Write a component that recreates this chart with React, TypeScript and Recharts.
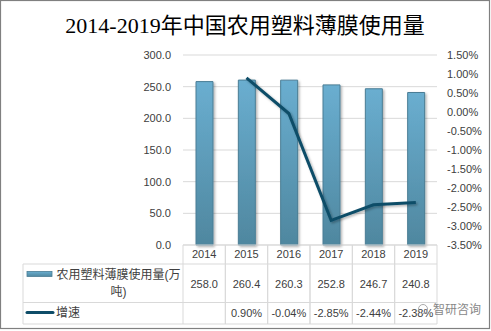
import React from "react";
import {
  ComposedChart,
  Bar,
  Line,
  XAxis,
  YAxis,
  CartesianGrid,
} from "recharts";

const years = ["2014", "2015", "2016", "2017", "2018", "2019"];
const usage = [258.0, 260.4, 260.3, 252.8, 246.7, 240.8];
const growth: (number | null)[] = [null, 0.9, -0.04, -2.85, -2.44, -2.38];
const leftTicks = [0, 50, 100, 150, 200, 250, 300];
const rightTicks = [-3.5, -3, -2.5, -2, -1.5, -1, -0.5, 0, 0.5, 1, 1.5];

const TITLE = "2014-2019年中国农用塑料薄膜使用量";
const SERIES1 = "农用塑料薄膜使用量(万吨)";
const SERIES2 = "增速";

const data = years.map((y, i) => ({ year: y, usage: usage[i], growth: growth[i] }));

const W = 491;
const H = 331;
const PLOT_TOP = 55;
const PLOT_BOTTOM = 245;
const PLOT_LEFT = 183;
const PLOT_RIGHT = 437;
const COL_W = (PLOT_RIGHT - PLOT_LEFT) / years.length;
const ROW1 = 264;
const ROW2 = 302.5;
const ROW3 = 324;
const TABLE_LEFT = 23;
const GRID = "#d9d9d9";
const TXT = "#404040";
const FONT = "'Liberation Sans', Arial, 'Noto Sans CJK SC', sans-serif";

const TableTick = (props: any) => {
  const { x, payload, index } = props;
  const l = x - COL_W / 2;
  const r = x + COL_W / 2;
  const g = growth[index];
  return (
    <g>
      <line x1={l} y1={PLOT_BOTTOM} x2={l} y2={ROW3} stroke={GRID} />
      <line x1={r} y1={PLOT_BOTTOM} x2={r} y2={ROW3} stroke={GRID} />
      <text x={x} y={254} textAnchor="middle" dominantBaseline="central" fontSize={11} fill={TXT} fontFamily={FONT}>
        {payload.value}
      </text>
      <text x={x} y={283.5} textAnchor="middle" dominantBaseline="central" fontSize={11} fill={TXT} fontFamily={FONT}>
        {usage[index].toFixed(1)}
      </text>
      {g !== null && (
        <text x={x} y={312.5} textAnchor="middle" dominantBaseline="central" fontSize={11} fill={TXT} fontFamily={FONT}>
          {g.toFixed(2) + "%"}
        </text>
      )}
    </g>
  );
};

export default function App() {
  return (
    <div style={{ position: "absolute", left: 0, top: 0, width: W, height: H, background: "#fff" }}>
      <ComposedChart
        width={W}
        height={H}
        data={data}
        margin={{ top: PLOT_TOP, right: 0, bottom: 0, left: 0 }}
      >
        <defs>
          <linearGradient id="barGrad" x1="0" y1="0" x2="0" y2="1">
            <stop offset="0%" stopColor="#6aaed0" />
            <stop offset="100%" stopColor="#4f879f" />
          </linearGradient>
          <filter id="shadow" x="-20%" y="-20%" width="150%" height="150%">
            <feDropShadow dx="1.5" dy="1.5" stdDeviation="1" floodColor="#000" floodOpacity="0.3" />
          </filter>
        </defs>
        <CartesianGrid vertical={false} stroke={GRID} yAxisId="left" />
        <XAxis
          dataKey="year"
          height={H - PLOT_BOTTOM}
          axisLine={false}
          tickLine={false}
          tickSize={0}
          tick={<TableTick />}
          interval={0}
        />
        <YAxis
          yAxisId="left"
          width={PLOT_LEFT}
          domain={[0, 300]}
          ticks={leftTicks}
          tickFormatter={(v: number) => v.toFixed(1)}
          axisLine={false}
          tickLine={false}
          tickSize={0}
          tickMargin={12}
          tick={{ fontSize: 11, fill: TXT, fontFamily: FONT }}
        />
        <YAxis
          yAxisId="right"
          orientation="right"
          width={W - PLOT_RIGHT}
          domain={[-3.5, 1.5]}
          ticks={rightTicks}
          tickFormatter={(v: number) => v.toFixed(2) + "%"}
          axisLine={false}
          tickLine={false}
          tickSize={0}
          tickMargin={10}
          tick={{ fontSize: 11, fill: TXT, fontFamily: FONT, textAnchor: "start" }}
        />
        <Bar
          yAxisId="left"
          dataKey="usage"
          barSize={17}
          fill="url(#barGrad)"
          stroke="#4a7d95"
          strokeWidth={1}
          isAnimationActive={false}
          style={{ filter: "url(#shadow)" }}
        />
        <Line
          yAxisId="right"
          dataKey="growth"
          stroke="#0e4d68"
          strokeWidth={3}
          dot={false}
          activeDot={false}
          connectNulls={false}
          isAnimationActive={false}
          style={{ filter: "url(#shadow)" }}
        />
      </ComposedChart>
      <svg
        width={W}
        height={H}
        style={{ position: "absolute", left: 0, top: 0, pointerEvents: "none" }}
      >
        <text
          x={245}
          y={33}
          textAnchor="middle"
          fontSize={22}
          fill="#000"
          fontFamily="'Liberation Serif', 'Noto Sans CJK SC', serif"
        >
          {TITLE}
        </text>
        <line x1={PLOT_LEFT} y1={PLOT_BOTTOM} x2={PLOT_RIGHT} y2={PLOT_BOTTOM} stroke={GRID} />
        <line x1={TABLE_LEFT} y1={ROW1} x2={PLOT_RIGHT} y2={ROW1} stroke={GRID} />
        <line x1={TABLE_LEFT} y1={ROW2} x2={PLOT_RIGHT} y2={ROW2} stroke={GRID} />
        <line x1={TABLE_LEFT} y1={ROW3} x2={PLOT_RIGHT} y2={ROW3} stroke={GRID} />
        <line x1={TABLE_LEFT} y1={ROW1} x2={TABLE_LEFT} y2={ROW3} stroke={GRID} />
        <defs>
          <linearGradient id="legGrad" x1="0" y1="0" x2="0" y2="1">
            <stop offset="0%" stopColor="#6aaed0" />
            <stop offset="100%" stopColor="#4f879f" />
          </linearGradient>
        </defs>
        <rect x={27} y={271.5} width={25} height={5} fill="url(#legGrad)" stroke="#4a7d95" strokeWidth={0.8} />
        <text x={118.5} y={275} textAnchor="middle" dominantBaseline="central" fontSize={12} fill={TXT} fontFamily={FONT}>
          {SERIES1.slice(0, 11)}
        </text>
        <text x={118.5} y={292} textAnchor="middle" dominantBaseline="central" fontSize={12} fill={TXT} fontFamily={FONT}>
          {SERIES1.slice(11)}
        </text>
        <line x1={27} y1={312.5} x2={53} y2={312.5} stroke="#0e4d68" strokeWidth={3} strokeLinecap="round" />
        <text x={56} y={312.5} dominantBaseline="central" fontSize={12} fill={TXT} fontFamily={FONT}>
          {SERIES2}
        </text>
        <circle cx={423} cy={309} r={4.5} fill="none" stroke="#aaa" strokeWidth={1} />
        <text x={433} y={310} dominantBaseline="central" fontSize={12} fill="#888" fontFamily={FONT}>
          智研咨询
        </text>
        <rect x={0.5} y={0.5} width={489} height={328} fill="none" stroke="#808080" strokeWidth={1.2} />
      </svg>
    </div>
  );
}
